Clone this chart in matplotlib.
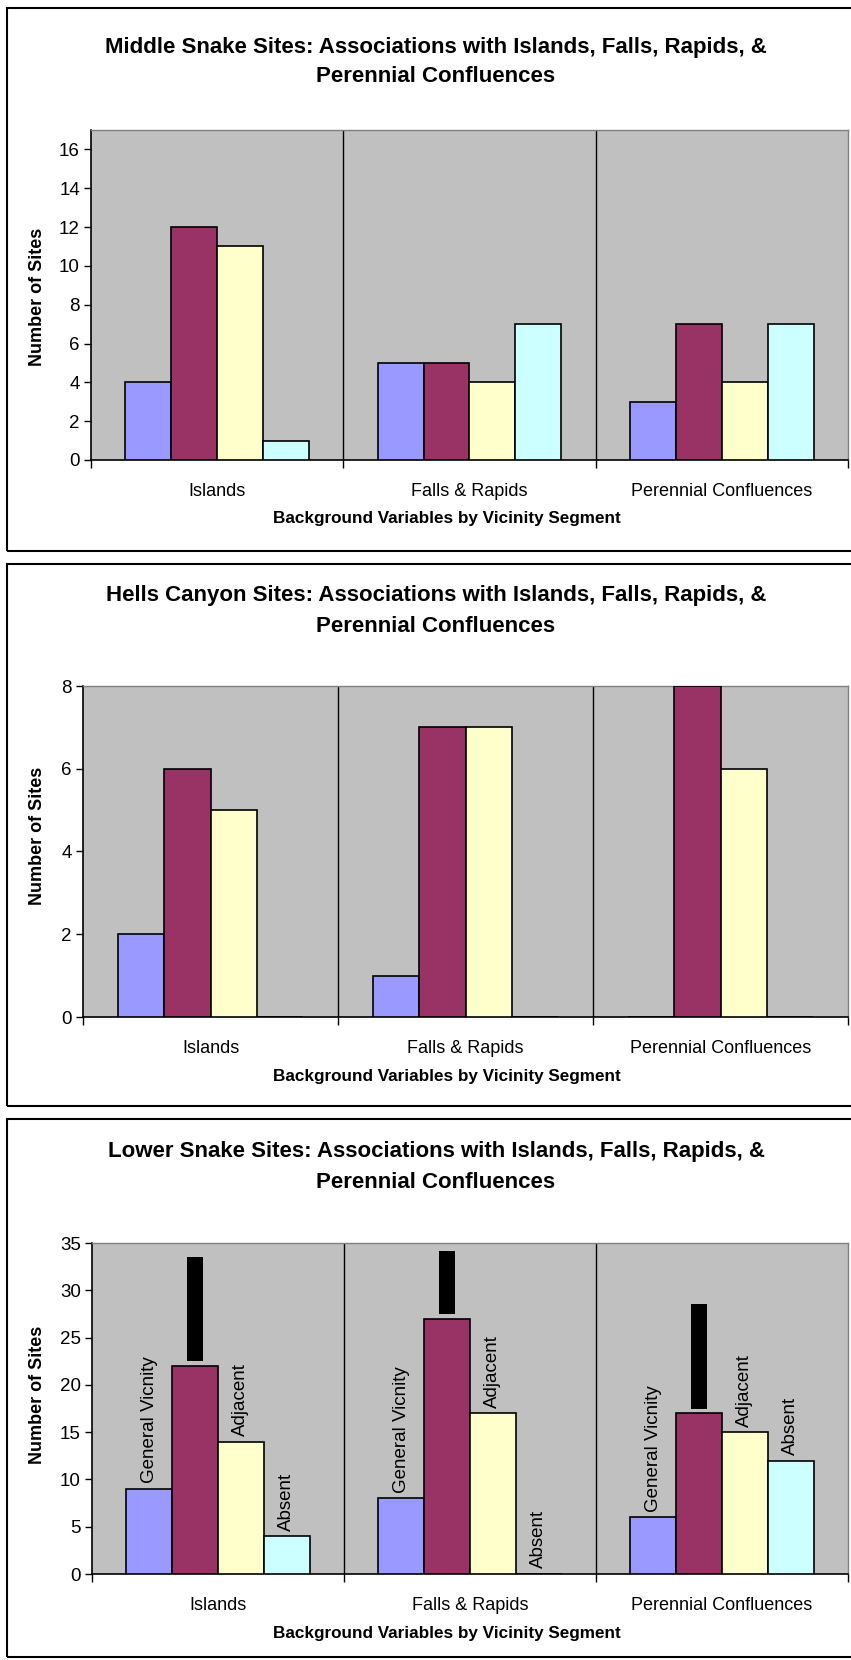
import numpy as np
import matplotlib.pyplot as plt
from matplotlib.patches import Rectangle

plt.rcParams["font.family"] = ["Liberation Sans", "DejaVu Sans"]

W, H = 851, 1660

categories = ["Islands", "Falls & Rapids", "Perennial Confluences"]
series_names = ["General Vicnity", "Direct", "Adjacent", "Absent"]
series_colors = ["#9999FF", "#993366", "#FFFFCC", "#CCFFFF"]

middle_snake = [
    [4, 5, 3],     # General Vicnity
    [12, 5, 7],    # Direct
    [11, 4, 4],    # Adjacent
    [1, 7, 7],     # Absent
]
hells_canyon = [
    [2, 1, 0],
    [6, 7, 8],
    [5, 7, 6],
    [0, 0, 0],
]
lower_snake = [
    [9, 8, 6],
    [22, 27, 17],
    [14, 17, 15],
    [4, 0, 12],
]
# blacked-out labels above the second series in the lower panel (length in data units)
hidden_label_len = [11.0, 6.7, 11.0]

panels = [
    dict(name="Middle Snake", data=middle_snake, ymax=17, step=2,
         box=(7, 8, 551), ax=(91, 130, 848, 460), title_y=(47.6, 76.2),
         xlabel_y=519, ylabel_y=297, labels=False),
    dict(name="Hells Canyon", data=hells_canyon, ymax=8, step=2,
         box=(7, 564, 1106), ax=(83, 686, 848, 1017), title_y=(596, 626.6),
         xlabel_y=1077, ylabel_y=836, labels=False),
    dict(name="Lower Snake", data=lower_snake, ymax=35, step=5,
         box=(7, 1119, 1657), ax=(92, 1243, 848, 1574), title_y=(1151.6, 1182),
         xlabel_y=1633, ylabel_y=1395, labels=True),
]

fig = plt.figure(figsize=(W / 100, H / 100), dpi=100)

n_series = len(series_names)
bar_w = 1 / (n_series + 1.5)
x = np.arange(len(categories))

for p in panels:
    bx, btop, bbot = p["box"]
    fig.patches.append(Rectangle((bx / W, 1 - bbot / H), 1.2, (bbot - btop) / H,
                                 transform=fig.transFigure, fill=False,
                                 edgecolor="black", linewidth=1.5))

    l, t, r, b = p["ax"]
    ax = fig.add_axes([l / W, 1 - b / H, (r - l) / W, (b - t) / H])
    ax.set_facecolor("#C0C0C0")

    for i, (vals, color) in enumerate(zip(p["data"], series_colors)):
        xs = x + (i - (n_series - 1) / 2) * bar_w
        ax.bar(xs, vals, width=bar_w, color=color, edgecolor="black",
               linewidth=1.2, zorder=3)
        if p["labels"]:
            for xi, v in zip(xs, vals):
                if i == 1:
                    continue
                ax.annotate(series_names[i], (xi, v), xytext=(0, 4),
                            textcoords="offset points", rotation=90,
                            ha="center", va="bottom", fontsize=13.5, zorder=4)
            if i == 1:
                ax.bar(xs, hidden_label_len, width=bar_w * 0.34,
                       bottom=np.array(vals) + 0.5, color="black", zorder=4)

    ax.set_xlim(-0.5, len(categories) - 0.5)
    ax.set_ylim(0, p["ymax"])
    ax.set_yticks(np.arange(0, p["ymax"] + 0.1, p["step"]))
    ax.tick_params(axis="y", direction="out", length=5, width=1,
                   labelsize=13.5, pad=3)

    ax.set_xticks(x)
    ax.set_xticklabels(categories)
    ax.set_xticks(np.arange(len(categories) + 1) - 0.5, minor=True)
    ax.tick_params(axis="x", which="major", length=0, labelsize=13, pad=16.5)
    ax.tick_params(axis="x", which="minor", direction="out", length=6, width=1)

    for xv in np.arange(1, len(categories)) - 0.5:
        ax.axvline(xv, color="black", linewidth=1, zorder=2)

    for side in ("top", "right"):
        ax.spines[side].set_color("#808080")
        ax.spines[side].set_linewidth(1)
    for side in ("left", "bottom"):
        ax.spines[side].set_color("black")
        ax.spines[side].set_linewidth(1.2)

    fig.text(436 / W, 1 - p["title_y"][0] / H,
             f"{p['name']} Sites: Associations with Islands, Falls, Rapids, &",
             ha="center", va="center", fontsize=16, fontweight="bold")
    fig.text(436 / W, 1 - p["title_y"][1] / H, "Perennial Confluences",
             ha="center", va="center", fontsize=16, fontweight="bold")
    fig.text(447 / W, 1 - p["xlabel_y"] / H,
             "Background Variables by Vicinity Segment",
             ha="center", va="center", fontsize=12.3, fontweight="bold")
    fig.text(37 / W, 1 - p["ylabel_y"] / H, "Number of Sites", rotation=90,
             ha="center", va="center", fontsize=13, fontweight="bold")

fig.savefig("out.png", dpi=100)
